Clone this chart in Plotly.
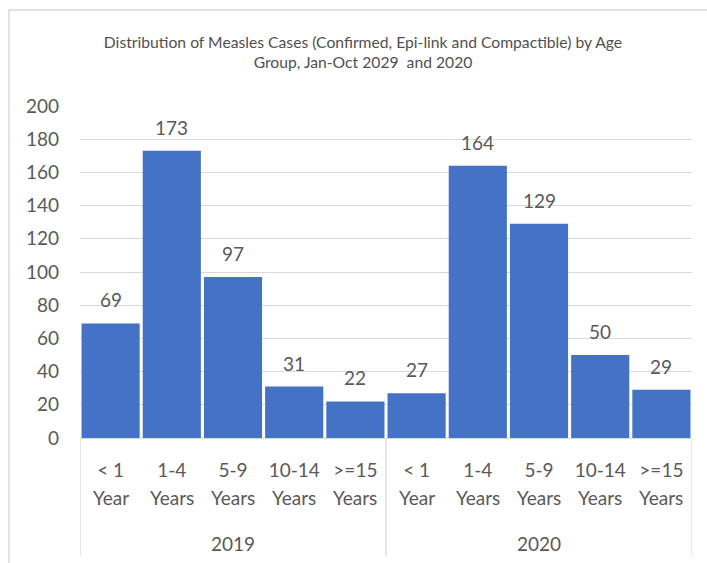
import plotly.graph_objects as go

# Measles cases by age group, Jan-Oct, two reporting years
years = ["2019", "2020"]
age_top = ["< 1", "1-4", "5-9", "10-14", ">=15"]
age_bottom = ["Year", "Years", "Years", "Years", "Years"]
cases_2019 = [69, 173, 97, 31, 22]
cases_2020 = [27, 164, 129, 50, 29]

values = cases_2019 + cases_2020
n = len(values)
xs = list(range(n))
tick_top = age_top * len(years)
tick_bottom = age_bottom * len(years)

BAR = "#4472C4"
TXT = "#595959"
GRID = "#d9d9d9"
FONT = "Lato, Calibri, sans-serif"

fig = go.Figure()
fig.add_trace(go.Bar(x=xs, y=values, marker=dict(color=BAR, line=dict(width=0)),
                     hoverinfo="x+y"))

annotations = []
# value labels above the bars
for x, v in zip(xs, values):
    annotations.append(dict(x=x, y=v, xref="x", yref="y", text=str(v),
                            showarrow=False, yanchor="bottom", yshift=10,
                            font=dict(size=19, color=TXT, family=FONT)))
# second line of the age labels
for x, t in zip(xs, tick_bottom):
    annotations.append(dict(x=x, y=-59 / 332, xref="x", yref="paper", text=t,
                            showarrow=False, yanchor="middle",
                            font=dict(size=19, color=TXT, family=FONT)))
# year group labels
per = len(age_top)
for i, yr in enumerate(years):
    annotations.append(dict(x=i * per + (per - 1) / 2, y=-105 / 332, xref="x", yref="paper",
                            text=yr, showarrow=False, yanchor="middle",
                            font=dict(size=19, color=TXT, family=FONT)))

shapes = []
# group dividers below the axis
for i in range(len(years) + 1):
    xd = i * per - 0.5
    shapes.append(dict(type="line", xref="x", yref="paper", x0=xd, x1=xd,
                       y0=0, y1=-118 / 332, line=dict(color=GRID, width=1.3)))
# chart frame
shapes.append(dict(type="line", xref="paper", yref="paper", x0=-72 / 612, x1=640 / 612,
                   y0=428 / 332, y1=428 / 332, line=dict(color=GRID, width=1.5)))
shapes.append(dict(type="line", xref="paper", yref="paper", x0=-71 / 612, x1=-71 / 612,
                   y0=428 / 332, y1=-130 / 332, line=dict(color=GRID, width=1.5)))

fig.update_layout(
    width=707, height=563,
    margin=dict(l=80, r=15, t=106, b=125),
    paper_bgcolor="white", plot_bgcolor="white",
    bargap=0.05,
    showlegend=False,
    font=dict(family=FONT, color=TXT),
    title=dict(
        text="Distribution of Measles Cases (Confirmed, Epi-link and Compactible) by Age<br>Group, Jan-Oct 2029  and 2020",
        x=363 / 707, xanchor="center", xref="container",
        y=1 - 48 / 563, yanchor="middle", yref="container",
        font=dict(size=15.7, color="#505050", family=FONT),
    ),
    xaxis=dict(
        tickmode="array", tickvals=xs, ticktext=tick_top,
        range=[-0.5, n - 0.5], showgrid=False, zeroline=False,
        showline=True, linecolor=GRID, linewidth=1,
        ticks="", ticklabelstandoff=15,
        tickfont=dict(size=19, color=TXT, family=FONT),
        fixedrange=True,
    ),
    yaxis=dict(
        range=[0, 200], tickmode="linear", tick0=0, dtick=20,
        showgrid=True, gridcolor=GRID, gridwidth=1.3, zeroline=False,
        showline=False, ticks="", ticklabelstandoff=20,
        tickfont=dict(size=19, color=TXT, family=FONT),
        fixedrange=True,
    ),
    annotations=annotations,
    shapes=shapes,
)

fig.write_html("out.html")
